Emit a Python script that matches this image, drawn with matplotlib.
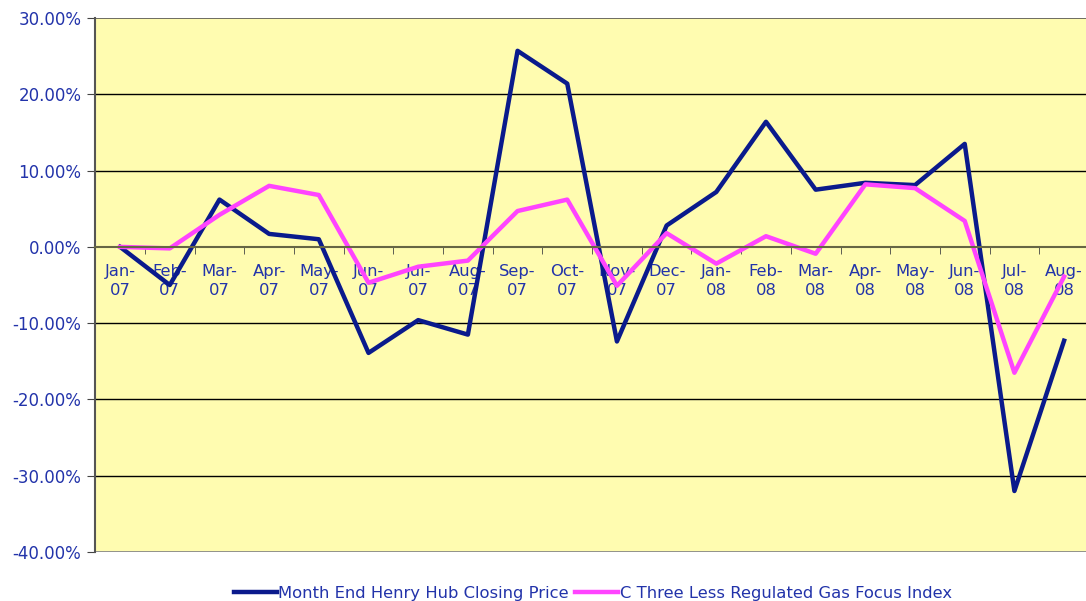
import matplotlib
matplotlib.use("Agg")
import matplotlib.pyplot as plt
import numpy as np

# etiquetas de meses y series (% de cambio)
months = ["Jan-\n07", "Feb-\n07", "Mar-\n07", "Apr-\n07", "May-\n07", "Jun-\n07",
          "Jul-\n07", "Aug-\n07", "Sep-\n07", "Oct-\n07", "Nov-\n07", "Dec-\n07",
          "Jan-\n08", "Feb-\n08", "Mar-\n08", "Apr-\n08", "May-\n08", "Jun-\n08",
          "Jul-\n08", "Aug-\n08"]
henry_hub = [0.0, -5.0, 6.2, 1.7, 1.0, -13.9, -9.6, -11.5, 25.7, 21.4, -12.4, 2.8,
             7.2, 16.4, 7.5, 8.4, 8.1, 13.5, -32.0, -12.3]
c_three = [0.0, -0.2, 4.2, 8.0, 6.8, -4.7, -2.6, -1.8, 4.7, 6.2, -5.1, 1.8,
           -2.2, 1.4, -0.9, 8.2, 7.7, 3.4, -16.5, -3.9]

navy = '#0A1A8C'
magenta = '#FF44FF'
txt = '#2233AA'

fig = plt.figure(figsize=(10.86, 6.01), dpi=100)
ax = fig.add_axes([0.0877, 0.0815, 0.915, 0.8885])
ax.set_facecolor('#FFFCB0')

x = np.arange(len(months))
ax.plot(x, henry_hub, color=navy, lw=3.2, label='Month End Henry Hub Closing Price')
ax.plot(x, c_three, color=magenta, lw=3.2, label='C Three Less Regulated Gas Focus Index')

ax.set_xlim(-0.5, len(months) - 0.5)
ax.set_ylim(-40, 30)

# grid
for v in [-30, -20, -10, 10, 20]:
    ax.axhline(v, color='black', lw=1, zorder=0)
ax.axhline(30, color='#555555', lw=1.2, zorder=0)
ax.axhline(-40, color='#888888', lw=2, zorder=0)

# eje x en el cero
for s in ['top', 'right']:
    ax.spines[s].set_visible(False)
ax.spines['bottom'].set_position(('data', 0))
ax.spines['bottom'].set_color('#666644')
ax.spines['bottom'].set_linewidth(1.5)
ax.spines['left'].set_color('#555555')
ax.spines['left'].set_linewidth(1.5)

ax.set_xticks(x)
ax.set_xticklabels(months, color=txt, fontsize=11.8, linespacing=1.4)
ax.set_xticks(np.arange(-0.5, len(months), 1), minor=True)
ax.tick_params(axis='x', which='major', length=0, pad=12)
ax.tick_params(axis='x', which='minor', length=5, direction='out', color='#444444')

ax.set_yticks(np.arange(-40, 31, 10))
ax.set_yticklabels(['%.2f%%' % v for v in np.arange(-40, 31, 10)], color=txt, fontsize=12)
ax.tick_params(axis='y', length=6, color='#444444', pad=4)

leg = fig.legend(loc='lower center', bbox_to_anchor=(0.546, -0.024), ncol=2, frameon=False,
                 fontsize=11.8, handlelength=2.6, columnspacing=0.4, handletextpad=0.1)
for t in leg.get_texts():
    t.set_color(txt)

fig.savefig('out.png', dpi=100)
